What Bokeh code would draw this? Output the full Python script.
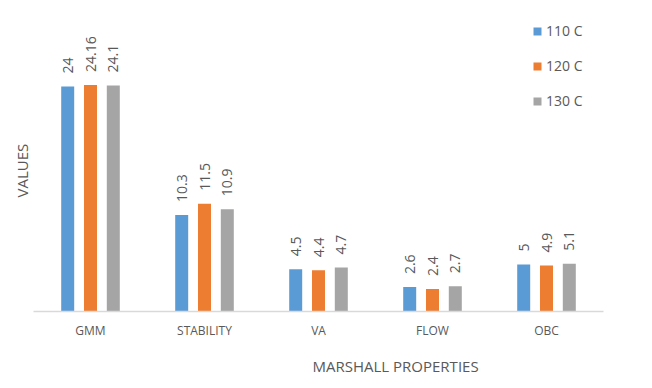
import math
from bokeh.plotting import figure
from bokeh.models import ColumnDataSource, FactorRange, Range1d, Title
from bokeh.transform import dodge
from bokeh.core.properties import value
from bokeh.embed import file_html
from bokeh.resources import INLINE

categories = ["GMM", "STABILITY", "VA", "FLOW", "OBC"]
series_names = ["110 C", "120 C", "130 C"]
s110 = [24, 10.3, 4.5, 2.6, 5]
s120 = [24.16, 11.5, 4.4, 2.4, 4.9]
s130 = [24.1, 10.9, 4.7, 2.7, 5.1]
colors = ["#5B9BD5", "#ED7D31", "#A5A5A5"]
offsets = [-0.2, 0.0, 0.2]

FONT = "Open Sans"
GREY = "#595959"

p = figure(width=652, height=388, output_backend="svg", toolbar_location=None,
           x_range=FactorRange(*categories, range_padding=0), y_range=Range1d(0, 32.1),
           min_border_left=33, min_border_right=49, min_border_top=10, min_border_bottom=77)
p.outline_line_color = None
p.xgrid.grid_line_color = None
p.ygrid.grid_line_color = None
p.yaxis.visible = False

for name, vals, col, off in zip(series_names, [s110, s120, s130], colors, offsets):
    src = ColumnDataSource(dict(cat=categories, val=vals, lbl=["{:g}".format(v) for v in vals]))
    p.vbar(x=dodge("cat", off, range=p.x_range), top="val", width=0.114, source=src,
           fill_color=col, line_color=None, legend_label=name)
    p.text(x=dodge("cat", off, range=p.x_range), y="val", text="lbl", source=src,
           angle=math.pi / 2, text_align="left", text_baseline="middle", y_offset=-13,
           text_font=value(FONT), text_font_size="14px", text_color=GREY)

xa = p.xaxis[0]
xa.axis_line_color = "#D9D9D9"
xa.axis_line_width = 1.5
xa.major_tick_line_color = None
xa.minor_tick_line_color = None
xa.major_tick_out = 0
xa.major_tick_in = 0
xa.major_label_standoff = 10
xa.major_label_text_font = FONT
xa.major_label_text_font_size = "12px"
xa.major_label_text_color = GREY

xt = Title(text="MARSHALL PROPERTIES", align="left", offset=279, standoff=24,
           text_font=FONT, text_font_size="15px", text_font_style="normal", text_color=GREY)
p.add_layout(xt, "below")

yt = Title(text="VALUES", align="left", offset=114, standoff=3,
           text_font=FONT, text_font_size="15px", text_font_style="normal", text_color=GREY)
p.add_layout(yt, "left")

lg = p.legend[0]
lg.location = (499, 201)
lg.border_line_color = None
lg.background_fill_alpha = 0
lg.padding = 0
lg.margin = 0
lg.spacing = 16
lg.glyph_width = 10
lg.glyph_height = 10
lg.label_standoff = 4
lg.label_text_font = FONT
lg.label_text_font_size = "14px"
lg.label_text_color = GREY

open("out.html", "w").write(file_html(p, INLINE))
